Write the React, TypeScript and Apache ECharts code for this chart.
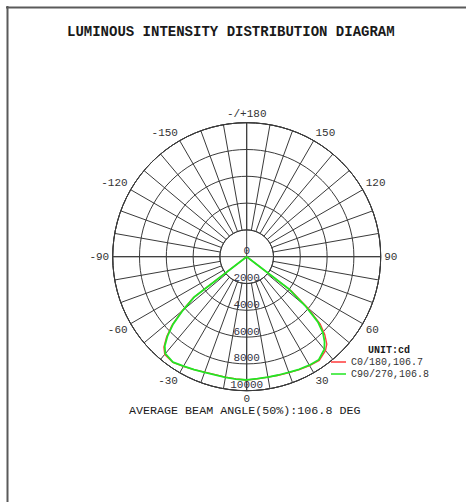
import React, { useEffect, useRef } from "react";
import * as echarts from "echarts";

// gamma angles (deg): negative = C180 / C270 side, positive = C0 / C90 side
const gammaAngles = [
  -90, -85, -80, -75, -70, -65, -60, -57.5, -55, -52.5, -50, -47.5, -45, -42.5, -40,
  -35, -30, -25, -20, -15, -10, -5, 0, 5, 10, 15, 20, 25, 30, 35,
  40, 42.5, 45, 47.5, 50, 52.5, 55, 57.5, 60, 65, 70, 75, 80, 85, 90,
];
// C0/180 intensities (cd)
const c0Values = [
  0, 0, 0, 0, 0, 0, 0, 0, 0, 5000, 6300, 7550, 8450, 9150, 9520,
  9620, 9450, 9300, 9170, 9110, 9120, 9160, 9200, 9150, 9130, 9160, 9200, 9290, 9380, 9450,
  9150, 8850, 8250, 7450, 5950, 4200, 0, 0, 0, 0, 0, 0, 0, 0, 0,
];
// C90/270 intensities (cd)
const c90Values = [
  0, 0, 0, 0, 0, 0, 0, 0, 0, 4900, 6200, 7450, 8350, 9050, 9450,
  9600, 9430, 9300, 9180, 9130, 9140, 9170, 9200, 9130, 9120, 9140, 9180, 9270, 9350, 9380,
  9020, 8600, 8050, 7200, 5700, 4000, 0, 0, 0, 0, 0, 0, 0, 0, 0,
];
const seriesNames = ["C0/180,106.7", "C90/270,106.8"];
const seriesColors = ["#ff3b3b", "#22e622"];
const radiusTicks = { min: 0, max: 10000, interval: 2000 };
const titleText = "LUMINOUS INTENSITY DISTRIBUTION DIAGRAM";
const unitText = "UNIT:cd";
const beamText = "AVERAGE BEAM ANGLE(50%):106.8 DEG";

const MONO = "'Liberation Mono', 'Courier New', monospace";
const CX = 246.7;
const CY = 256.7;
const R = 134;
const GRID = { color: "#3a3a3a", width: 1 };
const LEGEND_ICON =
  "path://M0,0 L0.05,0 L0.05,0.05 Z M0,4.3 L15,4.3 L15,5.7 L0,5.7 Z M14.95,9.95 L15,9.95 L15,10 Z";

function angleLabel(v: number): string {
  if (v % 30 !== 0) return "";
  if (v === 180) return "-/+180";
  if (v > 180) return String(v - 360);
  return String(v);
}

export default function App() {
  const ref = useRef<HTMLDivElement>(null);
  useEffect(() => {
    if (!ref.current) return;
    const chart = echarts.init(ref.current, undefined, { renderer: "svg" });
    const toPolar = (vals: number[]) =>
      gammaAngles.map((g, i) => [vals[i], g < 0 ? g + 360 : g]);
    chart.setOption({
      animation: false,
      backgroundColor: "#ffffff",
      title: [
        {
          text: titleText,
          left: 67,
          top: 24,
          padding: 0,
          textStyle: { fontFamily: MONO, fontSize: 14, fontWeight: "bold", color: "#1a1a1a", lineHeight: 16 },
        },
        {
          text: unitText,
          left: 368,
          top: 345,
          padding: 0,
          textStyle: { fontFamily: MONO, fontSize: 10, fontWeight: "bold", color: "#1a1a1a", lineHeight: 10 },
        },
        {
          text: beamText,
          left: 129,
          top: 406,
          padding: 0,
          textStyle: { fontFamily: MONO, fontSize: 11.7, fontWeight: "normal", color: "#1a1a1a", lineHeight: 10 },
        },
      ],
      legend: {
        orient: "vertical",
        left: 331,
        top: 357,
        padding: 0,
        itemWidth: 15,
        itemHeight: 10,
        itemGap: 2,
        icon: LEGEND_ICON,
        data: seriesNames,
        textStyle: { fontFamily: MONO, fontSize: 10, color: "#333", lineHeight: 10 },
      },
      polar: [
        { center: [CX, CY], radius: [R * 0.2, R] },
        { center: [CX, CY], radius: R },
      ],
      angleAxis: [
        {
          polarIndex: 0,
          type: "value",
          min: 0,
          max: 360,
          interval: 10,
          startAngle: 270,
          clockwise: false,
          axisLine: { show: true, lineStyle: GRID },
          axisTick: { show: false },
          splitLine: { show: true, lineStyle: GRID },
          axisLabel: {
            show: true,
            margin: 3.5,
            formatter: angleLabel,
            fontFamily: MONO,
            fontSize: 11,
            lineHeight: 10,
            color: "#333",
          },
        },
        {
          polarIndex: 1,
          type: "value",
          min: 0,
          max: 360,
          interval: 90,
          startAngle: 270,
          clockwise: false,
          axisLine: { show: true, lineStyle: GRID },
          axisTick: { show: false },
          axisLabel: { show: false },
          splitLine: { show: true, lineStyle: GRID },
        },
      ],
      radiusAxis: [
        { polarIndex: 0, type: "value", min: 0, max: 1, show: false },
        {
          polarIndex: 1,
          type: "value",
          min: radiusTicks.min,
          max: radiusTicks.max,
          interval: radiusTicks.interval,
          axisLine: { show: false },
          axisTick: { show: false },
          splitLine: { show: true, lineStyle: GRID },
          axisLabel: {
            show: true,
            margin: 0,
            align: "center",
            verticalAlign: "bottom",
            formatter: (v: number) => String(v),
            fontFamily: MONO,
            fontSize: 11,
            color: "#333344",
          },
        },
      ],
      series: [
        {
          type: "line",
          name: seriesNames[0],
          coordinateSystem: "polar",
          polarIndex: 1,
          data: toPolar(c0Values),
          symbol: "none",
          showSymbol: false,
          lineStyle: { color: seriesColors[0], width: 1.3 },
          itemStyle: { color: seriesColors[0] },
        },
        {
          type: "line",
          name: seriesNames[1],
          coordinateSystem: "polar",
          polarIndex: 1,
          data: toPolar(c90Values),
          symbol: "none",
          showSymbol: false,
          lineStyle: { color: seriesColors[1], width: 1.8 },
          itemStyle: { color: seriesColors[1] },
        },
      ],
      graphic: [
        { type: "line", shape: { x1: 6, y1: 7.5, x2: 466, y2: 7.5 }, style: { stroke: "#5a5a5a", lineWidth: 2 } },
        { type: "line", shape: { x1: 7.5, y1: 6, x2: 7.5, y2: 502 }, style: { stroke: "#5a5a5a", lineWidth: 2 } },
      ],
    });
    return () => chart.dispose();
  }, []);
  return (
    <div
      ref={ref}
      style={{ position: "absolute", left: 0, top: 0, width: 466, height: 502 }}
    />
  );
}
